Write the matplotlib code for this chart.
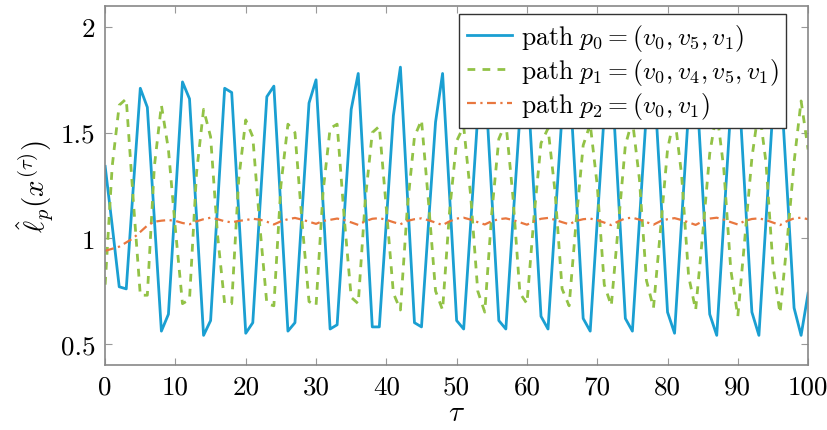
import numpy as np
import matplotlib.pyplot as plt

# pas de temps tau = 0 ... 100
tau = np.arange(0, 101)

# chemin p0 = (v0, v5, v1)
path_p0 = [1.34,
           1.06, 0.77, 0.76, 1.24, 1.71, 1.62,
           1.09, 0.56, 0.64, 1.19, 1.74, 1.66,
           1.10, 0.54, 0.61, 1.16, 1.71, 1.69,
           1.12, 0.55, 0.60, 1.14, 1.67, 1.72,
           1.14, 0.56, 0.60, 1.12, 1.64, 1.75,
           1.16, 0.57, 0.59, 1.10, 1.61, 1.78,
           1.18, 0.58, 0.58, 1.08, 1.58, 1.81,
           1.20, 0.60, 0.58, 1.07, 1.55, 1.78,
           1.20, 0.61, 0.57, 1.07, 1.58, 1.78,
           1.20, 0.61, 0.57, 1.08, 1.58, 1.79,
           1.21, 0.63, 0.57, 1.08, 1.59, 1.79,
           1.21, 0.62, 0.56, 1.08, 1.59, 1.80,
           1.21, 0.62, 0.56, 1.08, 1.60, 1.80,
           1.23, 0.65, 0.55, 1.08, 1.61, 1.80,
           1.22, 0.64, 0.54, 1.08, 1.62, 1.80,
           1.22, 0.65, 0.54, 1.08, 1.62, 1.80,
           1.24, 0.67, 0.54, 0.74]

# chemin p1 = (v0, v4, v5, v1)
path_p1 = [0.78,
           1.34, 1.63, 1.66, 1.18, 0.73, 0.73,
           1.34, 1.63, 1.42, 1.04, 0.69, 0.71,
           1.31, 1.61, 1.48, 1.01, 0.69, 0.69,
           1.28, 1.56, 1.48, 1.06, 0.69, 0.68,
           1.25, 1.54, 1.50, 1.08, 0.70, 0.68,
           1.22, 1.52, 1.54, 1.10, 0.72, 0.69,
           1.18, 1.50, 1.53, 1.14, 0.74, 0.66,
           1.15, 1.48, 1.56, 1.17, 0.75, 0.66,
           1.13, 1.46, 1.53, 1.20, 0.75, 0.65,
           1.12, 1.47, 1.55, 1.20, 0.74, 0.69,
           1.10, 1.45, 1.52, 1.22, 0.76, 0.68,
           1.08, 1.44, 1.54, 1.25, 0.78, 0.68,
           1.06, 1.44, 1.56, 1.28, 0.80, 0.67,
           1.04, 1.42, 1.58, 1.30, 0.82, 0.66,
           1.02, 1.40, 1.60, 1.33, 0.85, 0.63,
           1.00, 1.38, 1.62, 1.36, 0.87, 0.645,
           0.98, 1.36, 1.65, 1.42]

# chemin p2 = (v0, v1)
path_p2 = [0.94,
           0.95, 0.96, 0.98, 1.00, 1.03, 1.06,
           1.078, 1.083, 1.086, 1.082, 1.072, 1.066,
           1.080, 1.090, 1.097, 1.090, 1.080, 1.075,
           1.082, 1.086, 1.092, 1.088, 1.078, 1.065,
           1.080, 1.090, 1.096, 1.088, 1.078, 1.068,
           1.082, 1.087, 1.093, 1.086, 1.075, 1.063,
           1.080, 1.092, 1.095, 1.087, 1.076, 1.066,
           1.082, 1.090, 1.094, 1.085, 1.074, 1.062,
           1.080, 1.093, 1.097, 1.088, 1.076, 1.065,
           1.081, 1.090, 1.094, 1.086, 1.075, 1.064,
           1.080, 1.092, 1.096, 1.087, 1.076, 1.066,
           1.082, 1.090, 1.093, 1.085, 1.074, 1.062,
           1.080, 1.094, 1.097, 1.088, 1.076, 1.064,
           1.081, 1.090, 1.095, 1.086, 1.075, 1.063,
           1.080, 1.093, 1.097, 1.088, 1.076, 1.065,
           1.082, 1.091, 1.094, 1.086, 1.074, 1.062,
           1.081, 1.094, 1.097, 1.090]

x_ticks = [0, 10, 20, 30, 40, 50, 60, 70, 80, 90, 100]
y_ticks = [0.5, 1, 1.5, 2]
y_tick_labels = ['0.5', '1', '1.5', '2']

# style proche de pgfplots (police Computer Modern)
plt.rcParams['font.family'] = 'cmr10'
plt.rcParams['mathtext.fontset'] = 'cm'
plt.rcParams['axes.unicode_minus'] = False
plt.rcParams['axes.formatter.use_mathtext'] = True

fig = plt.figure(figsize=(8.28, 4.31), dpi=100)
ax = fig.add_axes([0.127, 0.151, 0.849, 0.833])

ax.plot(tau, path_p0, color='#1a9fd2', linewidth=2.0, linestyle='-',
        label=r'$\mathrm{path}\ p_0 = (v_0, v_5, v_1)$')
ax.plot(tau, path_p1, color='#92c246', linewidth=2.0, linestyle=(0, (2.8, 2.6)),
        label=r'$\mathrm{path}\ p_1 = (v_0, v_4, v_5, v_1)$')
ax.plot(tau, path_p2, color='#e8773f', linewidth=1.6, linestyle=(0, (4, 2, 1, 2)),
        label=r'$\mathrm{path}\ p_2 = (v_0, v_1)$')

ax.set_xlim(0, 100)
ax.set_ylim(0.4, 2.1)
ax.set_xticks(x_ticks)
ax.set_xticklabels([str(t) for t in x_ticks])
ax.set_yticks(y_ticks)
ax.set_yticklabels(y_tick_labels)

ax.tick_params(direction='in', top=True, right=True, length=5, width=0.8,
               color='#999999', labelsize=19.5, pad=7)
for spine in ax.spines.values():
    spine.set_color('#888888')
    spine.set_linewidth(1.2)

ax.set_xlabel(r'$\tau$', fontsize=21, labelpad=1)
ax.set_ylabel(r'$\hat{\ell}_p(x^{(\tau)})$', fontsize=21, labelpad=4)

leg = ax.legend(loc='upper right', fontsize=18.5, frameon=True, fancybox=False,
                framealpha=1.0, edgecolor='#333333', handlelength=1.75,
                borderpad=0.3, labelspacing=0.12, handletextpad=0.35,
                borderaxespad=0.0, bbox_to_anchor=(0.969, 0.978))
leg.get_frame().set_linewidth(1.0)

fig.savefig('out.png', dpi=100)
